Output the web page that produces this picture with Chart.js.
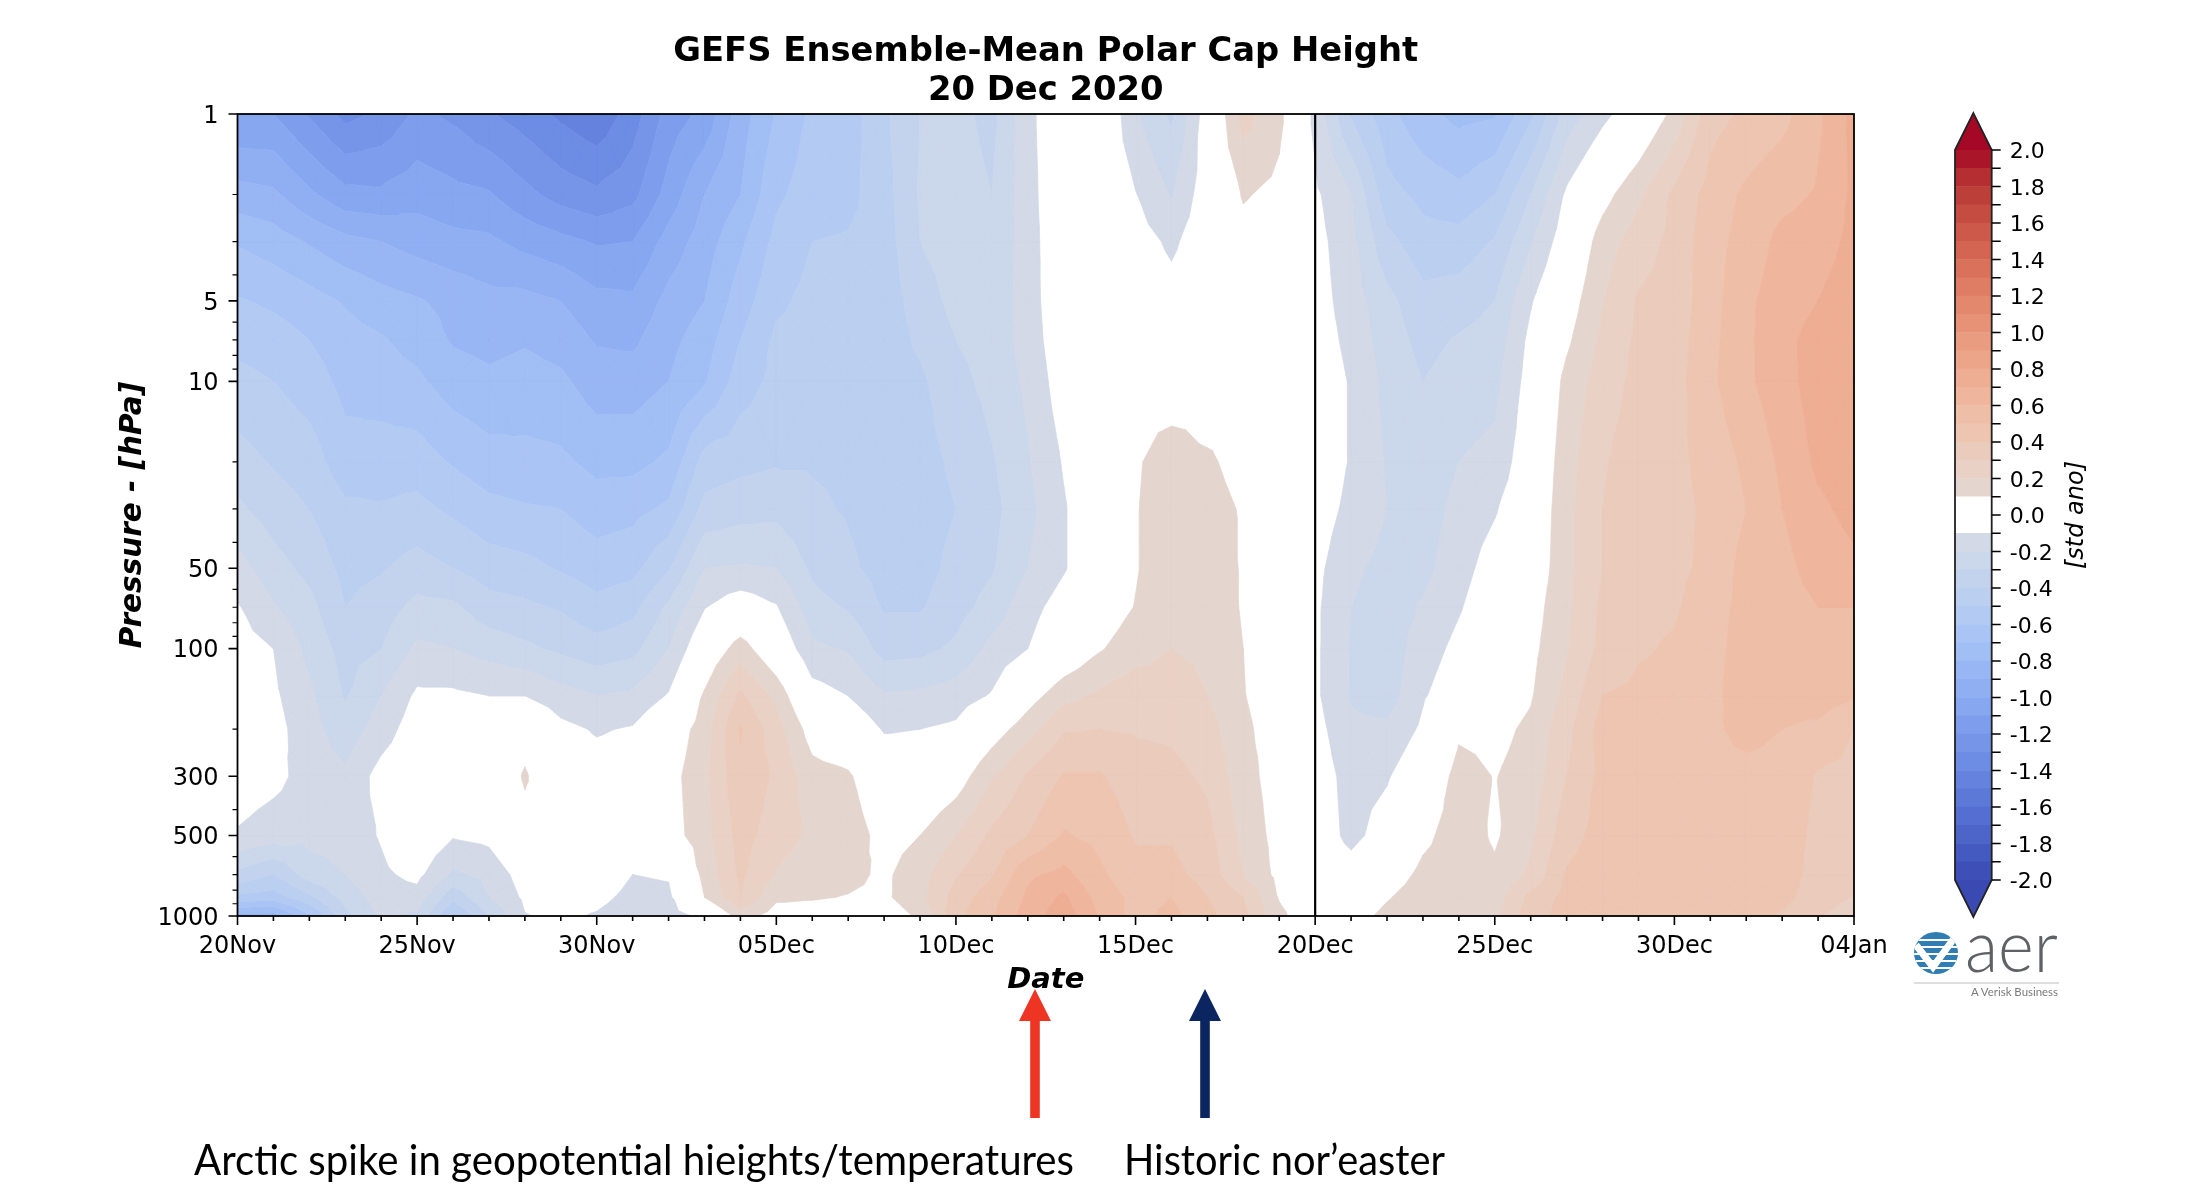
<!DOCTYPE html>
<html><head><meta charset="utf-8"><title>GEFS Ensemble-Mean Polar Cap Height</title>
<script src="https://cdn.jsdelivr.net/npm/chart.js@4"></script>
<style>
html,body{margin:0;padding:0;background:#fff;width:2194px;height:1202px;overflow:hidden}
canvas{position:absolute;display:block}
svg{position:absolute;left:0;top:0}
</style></head><body>
<canvas id="main" width="2194" height="1202" style="left:0;top:0;width:2194px;height:1202px"></canvas>
<canvas id="bar" width="294" height="830" style="left:1900px;top:100px;width:294px;height:830px"></canvas>
<svg width="2194" height="1202" viewBox="0 0 2194 1202">
  <polygon points="1035,989 1051,1021 1039.8,1021 1039.8,1118 1030.2,1118 1030.2,1021 1019,1021" fill="#ee3524"/>
  <polygon points="1205,989 1221,1021 1209.8,1021 1209.8,1118 1200.2,1118 1200.2,1021 1189,1021" fill="#0b2560"/>
  <text x="194" y="1175" font-family="Lato" font-size="42" fill="#000" textLength="880" lengthAdjust="spacingAndGlyphs">Arctic spike in geopotential hieights/temperatures</text>
  <text x="1124" y="1175" font-family="Lato" font-size="42" fill="#000" textLength="321" lengthAdjust="spacingAndGlyphs">Historic nor’easter</text>
  <defs><clipPath id="globe"><ellipse cx="1936" cy="953" rx="22" ry="21"/></clipPath></defs>
  <g clip-path="url(#globe)">
    <rect x="1912" y="930" width="48" height="46" fill="#2f7db3"/>
    <path d="M1912 940h48M1912 947h48M1912 954h48M1912 961h48M1912 968h48" stroke="#fff" stroke-width="2"/>
    <path d="M1916 945l17 22 22-30" fill="none" stroke="#fff" stroke-width="7"/>
  </g>
  <text x="1965" y="972" font-family="Lato" font-weight="300" font-size="72" fill="#5f6164" textLength="93" lengthAdjust="spacingAndGlyphs">aer</text>
  <line x1="1914" y1="983" x2="2059" y2="983" stroke="#bdbdbd" stroke-width="1.2"/>
  <text x="1971" y="996" font-family="Lato" font-size="12" fill="#7a7a7a" textLength="87" lengthAdjust="spacingAndGlyphs">A Verisk Business</text>
</svg>
<script>
// pressure levels (hPa)
const levels=[1,2,3,5,7,10,20,30,50,70,100,150,200,300,500,700,850,1000];
// daily columns: standardized anomaly per level, day 0 = 20 Nov
const d00=[-1.10,-.86,-.71,-.59,-.53,-.47,-.36,-.28,-.16,-.09,-.05,-.03,-.02,-.04,-.11,-.33,-.52,-.85];
const d01=[-1.10,-.88,-.75,-.62,-.55,-.50,-.41,-.35,-.26,-.19,-.10,-.08,-.06,-.07,-.15,-.40,-.55,-.85];
const d02=[-1.21,-.98,-.81,-.66,-.60,-.55,-.45,-.40,-.33,-.27,-.23,-.18,-.16,-.14,-.17,-.25,-.42,-.62];
const d03=[-1.33,-1.07,-.87,-.71,-.66,-.63,-.56,-.48,-.43,-.40,-.34,-.31,-.26,-.18,-.16,-.20,-.26,-.33];
const d04=[-1.28,-1.08,-.90,-.76,-.69,-.65,-.55,-.49,-.41,-.35,-.30,-.20,-.15,-.06,-.09,-.12,-.15,-.18];
const d05=[-1.18,-1.04,-.94,-.79,-.74,-.68,-.55,-.47,-.36,-.27,-.18,-.08,-.04,0,0,-.07,-.14,-.22];
const d06=[-1.22,-1.07,-.97,-.83,-.81,-.75,-.61,-.52,-.40,-.28,-.20,-.08,-.05,-.02,-.09,-.22,-.37,-.52];
const d07=[-1.29,-1.09,-.98,-.87,-.83,-.78,-.66,-.57,-.45,-.36,-.24,-.10,-.07,-.03,-.07,-.17,-.20,-.30];
const d08=[-1.35,-1.17,-1.03,-.87,-.81,-.76,-.67,-.59,-.47,-.38,-.28,-.10,.04,.115,.05,-.05,-.08,-.105];
const d09=[-1.42,-1.24,-1.07,-.90,-.84,-.78,-.68,-.60,-.51,-.41,-.32,-.16,-.07,-.03,0,-.02,-.05,-.08];
const d10=[-1.48,-1.28,-1.11,-.97,-.91,-.85,-.73,-.65,-.55,-.47,-.36,-.20,-.11,-.05,-.01,-.03,-.07,-.11];
const d11=[-1.35,-1.23,-1.10,-.98,-.92,-.85,-.73,-.63,-.53,-.43,-.33,-.18,-.09,-.04,-.02,-.10,-.13,-.16];
const d12=[-1.16,-1.06,-.96,-.87,-.83,-.80,-.68,-.58,-.41,-.28,-.20,-.09,.02,.06,.05,-.09,-.12,-.15];
const d13=[-1.07,-.90,-.85,-.80,-.75,-.71,-.46,-.37,-.20,-.105,0,.115,.15,.17,.16,.13,.10,-.07];
const d14=[-.85,-.80,-.72,-.65,-.60,-.55,-.43,-.34,-.19,-.03,.15,.32,.41,.38,.34,.32,.30,.15];
const d15=[-.69,-.62,-.57,-.52,-.48,-.47,-.41,-.33,-.20,-.09,0,.17,.24,.28,.25,.19,.12,.05];
const d16=[-.58,-.55,-.50,-.47,-.46,-.44,-.41,-.38,-.32,-.26,-.18,-.05,.05,.14,.18,.14,.11,.05];
const d17=[-.55,-.53,-.49,-.47,-.46,-.45,-.42,-.41,-.38,-.31,-.21,-.10,0,.115,.16,.13,.095,.04];
const d18=[-.42,-.44,-.45,-.46,-.46,-.46,-.46,-.45,-.44,-.41,-.34,-.19,-.11,0,.06,.08,.08,.03];
const d19=[-.30,-.29,-.30,-.35,-.38,-.42,-.44,-.45,-.44,-.41,-.33,-.18,-.10,-.03,.10,.16,.17,.12];
const d20=[-.27,-.25,-.25,-.27,-.30,-.33,-.38,-.40,-.37,-.34,-.28,-.15,-.08,.04,.20,.29,.34,.37];
const d21=[-.33,-.30,-.28,-.27,-.26,-.27,-.31,-.33,-.31,-.26,-.17,-.09,.04,.19,.32,.39,.46,.49];
const d22=[-.13,-.14,-.15,-.15,-.16,-.18,-.21,-.23,-.20,-.14,-.10,.05,.16,.31,.40,.58,.62,.65];
const d23=[0,0,0,-.01,-.02,-.04,-.09,-.11,-.11,-.05,0,.165,.29,.41,.51,.63,.72,.76];
const d24=[.03,.02,0,0,0,0,0,0,0,.03,.09,.22,.30,.41,.47,.52,.56,.59];
const d25=[-.19,-.095,-.05,-.01,0,.02,.08,.09,.09,.105,.16,.26,.29,.35,.39,.43,.47,.46];
const d26=[-.32,-.21,-.12,-.06,-.03,0,.18,.19,.19,.19,.20,.25,.28,.33,.39,.43,.50,.53];
const d27=[-.04,-.03,-.03,0,0,.02,.117,.14,.16,.17,.18,.20,.24,.28,.33,.36,.40,.43];
const d28=[.24,.11,.06,.04,.03,.03,.06,.09,.09,.09,.10,.105,.12,.14,.17,.20,.30,.33];
const d29=[.13,.07,.03,0,-.01,-.02,-.02,-.02,0,0,.02,.04,.05,.05,.06,.07,.09,.13];
const d30=[-.13,-.08,-.06,-.05,-.04,-.02,-.01,-.04,-.07,-.08,-.08,-.08,-.06,-.04,-.03,0,0,0];
const d31=[-.41,-.20,-.17,-.15,-.13,-.11,-.11,-.13,-.18,-.20,-.21,-.21,-.18,-.14,-.13,-.05,.01,.05];
const d32=[-.57,-.46,-.37,-.27,-.25,-.23,-.21,-.20,-.23,-.25,-.26,-.25,-.18,-.11,-.05,.03,.09,.13];
const d33=[-.67,-.53,-.46,-.37,-.33,-.30,-.27,-.25,-.23,-.19,-.15,-.11,-.08,-.01,.07,.13,.16,.18];
const d34=[-.73,-.57,-.46,-.35,-.29,-.26,-.20,-.17,-.14,-.11,-.07,-.03,.08,.14,.16,.17,.18,.19];
const d35=[-.71,-.50,-.39,-.30,-.26,-.23,-.17,-.11,-.05,-.02,0,.04,.07,.096,.085,.12,.15,.17];
const d36=[-.52,-.30,-.21,-.11,-.07,-.05,-.02,0,.02,.05,.07,.09,.12,.14,.18,.22,.33,.36];
const d37=[-.26,-.08,-.03,.04,.08,.13,.16,.17,.17,.18,.19,.23,.27,.30,.36,.41,.43,.44];
const d38=[-.13,.06,.15,.195,.22,.25,.29,.30,.30,.32,.33,.40,.44,.43,.44,.46,.47,.48];
const d39=[-.02,.18,.25,.31,.32,.33,.35,.36,.37,.38,.39,.42,.43,.45,.46,.47,.48,.49];
const d40=[.13,.32,.33,.34,.35,.36,.37,.37,.38,.39,.41,.43,.44,.45,.46,.47,.47,.47];
const d41=[.36,.44,.46,.46,.47,.48,.44,.42,.42,.45,.46,.47,.48,.47,.47,.47,.46,.45];
const d42=[.42,.52,.54,.58,.58,.58,.52,.50,.54,.54,.55,.56,.53,.47,.47,.46,.45,.43];
const d43=[.47,.57,.63,.65,.67,.66,.62,.60,.57,.56,.55,.53,.50,.47,.46,.45,.43,.39];
const d44=[.58,.61,.65,.70,.74,.75,.72,.68,.64,.60,.58,.55,.48,.39,.37,.36,.35,.31];
const d45=[.73,.72,.73,.76,.78,.79,.76,.73,.68,.60,.57,.51,.40,.37,.35,.33,.295,.24];
const field=[d00,d01,d02,d03,d04,d05,d06,d07,d08,d09,d10,d11,d12,d13,d14,d15,d16,d17,d18,d19,d20,d21,d22,d23,
 d24,d25,d26,d27,d28,d29,d30,d31,d32,d33,d34,d35,d36,d37,d38,d39,d40,d41,d42,d43,d44,d45];
// axis labels
const dateLabels=['20Nov','25Nov','30Nov','05Dec','10Dec','15Dec','20Dec','25Dec','30Dec','04Jan'];
const pressureTicks=[1,5,10,50,100,300,500,1000];
const pressureMinor=[2,3,4,6,7,8,9,20,30,40,60,70,80,90,200,400,600,700,800,900];
const analysisDay=[30];
const colorbarTicks=[-2,-1.8,-1.6,-1.4,-1.2,-1,-.8,-.6,-.4,-.2,0,.2,.4,.6,.8,1,1.2,1.4,1.6,1.8,2];
const bandEdges=[-2,-1.9,-1.8,-1.7,-1.6,-1.5,-1.4,-1.3,-1.2,-1.1,-1,-.9,-.8,-.7,-.6,-.5,-.4,-.3,-.2,-.1,.1,.2,.3,.4,.5,.6,.7,.8,.9,1,1.1,1.2,1.3,1.4,1.5,1.6,1.7,1.8,1.9,2];
// coolwarm colormap anchors
const coolwarm=[[59,76,192],[68,90,204],[77,104,215],[87,117,225],[98,130,234],[108,142,241],[119,154,247],[130,165,251],[141,176,254],[152,185,255],[163,194,255],[174,201,253],[184,208,249],[194,213,244],[204,217,238],[213,219,230],[221,221,221],[229,216,209],[236,211,197],[241,204,185],[245,196,173],[247,187,160],[247,177,148],[247,166,135],[244,154,123],[241,141,111],[236,127,99],[229,112,88],[222,96,77],[213,80,66],[203,62,56],[192,40,47],[180,4,38]];

function cmap(v){
  const t=Math.max(0,Math.min(1,(v+2)/4))*(coolwarm.length-1),i=Math.min(coolwarm.length-2,Math.floor(t)),f=t-i;
  const a=coolwarm[i],b=coolwarm[i+1];
  const c=[0,1,2].map(n=>a[n]+(b[n]-a[n])*f);
  // the reference screenshot is slightly muted compared with the pure colormap
  const L=.3*c[0]+.59*c[1]+.11*c[2],sat=(Math.max(...c)-Math.min(...c))/255,k=1-.06*sat;
  const m=c.map(q=>Math.round((q*.93+L*.07)*k));
  return `rgb(${m[0]},${m[1]},${m[2]})`;
}
const bands=[];
for(let i=0;i<bandEdges.length-1;i++){
  const lo=bandEdges[i],hi=bandEdges[i+1];
  bands.push({lo,hi,color:(lo<0&&hi>0)?'#ffffff':cmap((lo+hi)/2),blank:lo<0&&hi>0});
}
function clip(poly,limit,keepAbove){
  const out=[];
  for(let i=0;i<poly.length;i++){
    const a=poly[i],b=poly[(i+1)%poly.length];
    const ina=keepAbove?a[2]>=limit:a[2]<=limit, inb=keepAbove?b[2]>=limit:b[2]<=limit;
    if(ina) out.push(a);
    if(ina!==inb){const f=(limit-a[2])/(b[2]-a[2]);out.push([a[0]+(b[0]-a[0])*f,a[1]+(b[1]-a[1])*f,limit]);}
  }
  return out;
}
const contourPlugin={id:'contours',beforeDatasetsDraw(chart){
  const {ctx,chartArea:A,scales:{x,y}}=chart;
  const logs=levels.map(Math.log10),tris=[];
  for(let d=0;d<field.length-1;d++)for(let k=0;k<levels.length-1;k++){
    const a=[d,logs[k],field[d][k]],b=[d+1,logs[k],field[d+1][k]],c=[d+1,logs[k+1],field[d+1][k+1]],e=[d,logs[k+1],field[d][k+1]];
    const m=[d+.5,(logs[k]+logs[k+1])/2,(a[2]+b[2]+c[2]+e[2])/4];
    tris.push([a,b,m],[b,c,m],[c,e,m],[e,a,m]);
  }
  ctx.save();ctx.beginPath();ctx.rect(A.left,A.top,A.right-A.left,A.bottom-A.top);ctx.clip();
  ctx.lineJoin='round';
  for(const band of bands){
    if(band.blank)continue;
    ctx.beginPath();let any=false;
    for(const t of tris){
      const vs=[t[0][2],t[1][2],t[2][2]];
      if(Math.max(...vs)<band.lo||Math.min(...vs)>band.hi)continue;
      let p=clip(t,band.lo,true);if(p.length<3)continue;
      p=clip(p,band.hi,false);if(p.length<3)continue;
      p.forEach((q,i)=>{const X=x.getPixelForValue(q[0]),Y=y.getPixelForValue(Math.pow(10,q[1]));i?ctx.lineTo(X,Y):ctx.moveTo(X,Y);});
      ctx.closePath();any=true;
    }
    if(any){ctx.fillStyle=band.color;ctx.strokeStyle=band.color;ctx.lineWidth=.7;ctx.fill();ctx.stroke();}
  }
  ctx.restore();
},afterDraw(chart){
  const {ctx,chartArea:A,scales:{x,y}}=chart;
  ctx.save();ctx.strokeStyle='#000';
  ctx.lineWidth=1.6;
  ctx.beginPath();
  for(let d=0;d<field.length;d++){const X=x.getPixelForValue(d);ctx.moveTo(X,A.bottom);ctx.lineTo(X,A.bottom+(d%5===0?9:5));}
  for(const p of pressureTicks){const Y=y.getPixelForValue(p);ctx.moveTo(A.left,Y);ctx.lineTo(A.left-9,Y);}
  ctx.stroke();
  ctx.lineWidth=1.2;ctx.beginPath();
  for(const p of pressureMinor){const Y=y.getPixelForValue(p);ctx.moveTo(A.left,Y);ctx.lineTo(A.left-5,Y);}
  ctx.stroke();
  ctx.lineWidth=1.8;ctx.strokeRect(A.left,A.top,A.right-A.left,A.bottom-A.top);
  ctx.restore();
}};
new Chart(document.getElementById('main'),{
  type:'scatter',
  data:{datasets:[{label:'Analysis date',data:[{x:analysisDay[0],y:levels[0]},{x:analysisDay[0],y:levels[levels.length-1]}],showLine:true,borderColor:'#000',borderWidth:2.2,pointRadius:0,fill:false}]},
  options:{responsive:false,animation:false,devicePixelRatio:1,
    layout:{padding:{left:0,right:340,top:0,bottom:0}},
    plugins:{legend:{display:false},tooltip:{enabled:false},
      title:{display:true,fullSize:false,text:['GEFS Ensemble-Mean Polar Cap Height','20 Dec 2020'],color:'#000',
        font:{family:'DejaVu Sans',size:33.8,weight:'bold',lineHeight:1.154},padding:{top:33,bottom:3}}},
    scales:{
      x:{type:'linear',min:0,max:45,grid:{display:false,tickLength:9},border:{display:false},
        afterFit(s){s.height=286;},
        afterBuildTicks(s){s.ticks=field.map((_,d)=>({value:d}));},
        ticks:{autoSkip:false,maxRotation:0,minRotation:0,padding:7,color:'#000',font:{family:'DejaVu Sans',size:24},
          callback(v){return v%5===0?dateLabels[v/5]:'';}},
        title:{display:true,text:'Date',color:'#000',font:{family:'DejaVu Sans',size:29,weight:'bold',style:'italic',lineHeight:1.2},padding:{top:0,bottom:204}}},
      y:{type:'logarithmic',reverse:true,min:1,max:1000,grid:{display:false,tickLength:9},border:{display:false},
        afterFit(s){s.width=237.5;},
        afterBuildTicks(s){s.ticks=pressureTicks.map(v=>({value:v}));},
        ticks:{autoSkip:false,padding:10,labelOffset:2.5,color:'#000',font:{family:'DejaVu Sans',size:24},callback(v){return String(v);}},
        title:{display:true,text:'Pressure - [hPa]',color:'#000',font:{family:'DejaVu Sans',size:29.5,weight:'bold',style:'italic',lineHeight:1.2},padding:{top:116,bottom:0}}}
    }},
  plugins:[contourPlugin]
});
const colorbarPlugin={id:'colorbarFrame',afterDatasetsDraw(chart){
  const {ctx,chartArea:A,scales:{y}}=chart,cx=(A.left+A.right)/2,tipUp=37;
  ctx.save();
  ctx.fillStyle=cmap(2);ctx.beginPath();ctx.moveTo(A.left,A.top);ctx.lineTo(cx,A.top-tipUp);ctx.lineTo(A.right,A.top);ctx.closePath();ctx.fill();
  ctx.fillStyle=cmap(-2);ctx.beginPath();ctx.moveTo(A.left,A.bottom);ctx.lineTo(cx,A.bottom+tipUp);ctx.lineTo(A.right,A.bottom);ctx.closePath();ctx.fill();
  ctx.strokeStyle='#222';ctx.lineWidth=1.8;ctx.lineJoin='miter';
  ctx.beginPath();ctx.moveTo(A.left,A.top);ctx.lineTo(cx,A.top-tipUp);ctx.lineTo(A.right,A.top);ctx.lineTo(A.right,A.bottom);ctx.lineTo(cx,A.bottom+tipUp);ctx.lineTo(A.left,A.bottom);ctx.closePath();ctx.stroke();
  ctx.lineWidth=1.5;ctx.strokeStyle='#000';ctx.beginPath();
  for(const e of colorbarTicks){const Y=y.getPixelForValue(e);ctx.moveTo(A.right,Y);ctx.lineTo(A.right+9,Y);}
  for(const e of colorbarTicks.slice(0,-1)){const Y=y.getPixelForValue(e+.1);ctx.moveTo(A.right,Y);ctx.lineTo(A.right+9,Y);}
  ctx.stroke();
  ctx.translate(177,y.getPixelForValue(0));ctx.rotate(-Math.PI/2);
  ctx.fillStyle='#000';ctx.font='italic 24px "DejaVu Sans"';ctx.textAlign='center';ctx.textBaseline='middle';
  ctx.fillText('[std ano]',0,0);
  ctx.restore();
}};
new Chart(document.getElementById('bar'),{
  type:'bar',
  data:{labels:['colorbar'],datasets:bands.map(b=>({label:String(b.lo),data:[[b.lo,b.hi]],backgroundColor:b.color,borderWidth:0,barPercentage:1,categoryPercentage:1,grouped:false}))},
  options:{responsive:false,animation:false,devicePixelRatio:1,
    layout:{padding:{left:55,right:0,top:50,bottom:50}},
    plugins:{legend:{display:false},tooltip:{enabled:false},title:{display:false}},
    scales:{
      x:{display:false},
      y:{position:'right',min:-2,max:2,grid:{display:false,tickLength:9},border:{display:false},
        afterFit(s){s.width=202.3;},
        afterBuildTicks(s){s.ticks=colorbarTicks.map(v=>({value:v}));},
        ticks:{autoSkip:false,padding:9,labelOffset:2.5,color:'#000',font:{family:'DejaVu Sans',size:22},callback(v){return Number(v).toFixed(1);}}}
    }},
  plugins:[colorbarPlugin]
});
</script>
</body></html>
